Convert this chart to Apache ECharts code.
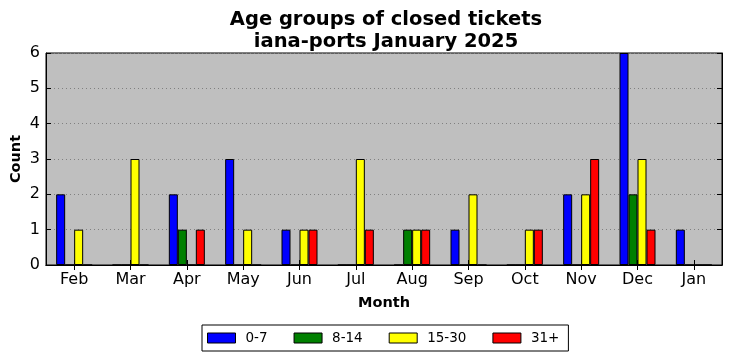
<!DOCTYPE html>
<html>
<head>
<meta charset="utf-8">
<script src="https://cdn.jsdelivr.net/npm/echarts@6/dist/echarts.min.js"></script>
<style>html,body{margin:0;padding:0;background:#fff}#c{width:732px;height:361px}</style>
</head>
<body>
<div id="c"></div>
<script>
const months = ['Feb','Mar','Apr','May','Jun','Jul','Aug','Sep','Oct','Nov','Dec','Jan'];
const age0_7   = [2,0,2,3,1,0,0,1,0,2,6,1];
const age8_14  = [0,0,1,0,0,0,1,0,0,0,2,0];
const age15_30 = [1,3,0,1,1,3,1,2,1,2,3,0];
const age31p   = [0,0,1,0,1,1,1,0,1,3,1,0];
const yTicks = [0,1,2,3,4,5,6];

const F = 'DejaVu Sans';
const chart = echarts.init(document.getElementById('c'));
function ser(name, data, color){
  return {name, type:'bar', data, barWidth:9, barGap:'0%',
    itemStyle:{color, borderColor:'#000', borderWidth:1}, xAxisIndex:0, yAxisIndex:0};
}
chart.setOption({
  animation:false,
  textStyle:{fontFamily:F},
  title:{text:'Age groups of closed tickets\niana-ports January 2025', left:381, textAlign:'center', top:4,
    textStyle:{fontFamily:F, fontWeight:'bold', fontSize:19.5, color:'#000', lineHeight:22}},
  grid:{left:46, right:10, top:53, bottom:96, containLabel:false, outerBoundsMode:'none', show:true, backgroundColor:'#bfbfbf', borderColor:'#000', borderWidth:1},
  legend:{bottom:10, left:202, icon:'rect', itemWidth:28, itemHeight:10, itemGap:26, padding:[6,9,6,5],
    borderColor:'#000', borderWidth:1, borderRadius:0, backgroundColor:'#fff',
    textStyle:{fontFamily:F, fontSize:13.5, color:'#000', padding:[0,0,0,5]},
    itemStyle:{borderColor:'#000', borderWidth:1},
    data:['0-7','8-14','15-30','31+']},
  xAxis:[
    {type:'category', data:months, position:'bottom', name:'Month', nameLocation:'middle', nameGap:31,
      nameTextStyle:{fontFamily:F, fontWeight:'bold', fontSize:14.5, color:'#000'},
      axisLine:{show:true, lineStyle:{color:'#000'}}, axisTick:{show:true, inside:true, alignWithLabel:true, length:5, lineStyle:{color:'#000'}},
      axisLabel:{fontFamily:F, fontSize:16, color:'#000', margin:7}, splitLine:{show:false}},
    {type:'category', data:months, position:'top', axisLine:{show:true, lineStyle:{color:'#000'}},
      axisTick:{show:true, inside:true, alignWithLabel:true, length:5, lineStyle:{color:'#000'}}, axisLabel:{show:false}}
  ],
  yAxis:[
    {type:'value', min:0, max:6, interval:1, name:'Count', nameLocation:'middle', nameGap:22, nameMoveOverlap:false,
      nameTextStyle:{fontFamily:F, fontWeight:'bold', fontSize:14.5, color:'#000'},
      axisLine:{show:true, lineStyle:{color:'#000'}}, axisTick:{show:true, inside:true, length:5, lineStyle:{color:'#000'}},
      axisLabel:{fontFamily:F, fontSize:16, color:'#000', margin:6, formatter:v=>yTicks.includes(v)?String(v):''},
      splitLine:{show:true, lineStyle:{color:'#808080', type:[1,3], width:1}}},
    {type:'value', min:0, max:6, interval:1, position:'right', axisLine:{show:true, lineStyle:{color:'#000'}},
      axisTick:{show:true, inside:true, length:5, lineStyle:{color:'#000'}}, axisLabel:{show:false}, splitLine:{show:false}}
  ],
  series:[
    ser('0-7', age0_7, '#0000ff'),
    ser('8-14', age8_14, '#008000'),
    ser('15-30', age15_30, '#ffff00'),
    ser('31+', age31p, '#ff0000')
  ]
});
</script>
</body>
</html>
